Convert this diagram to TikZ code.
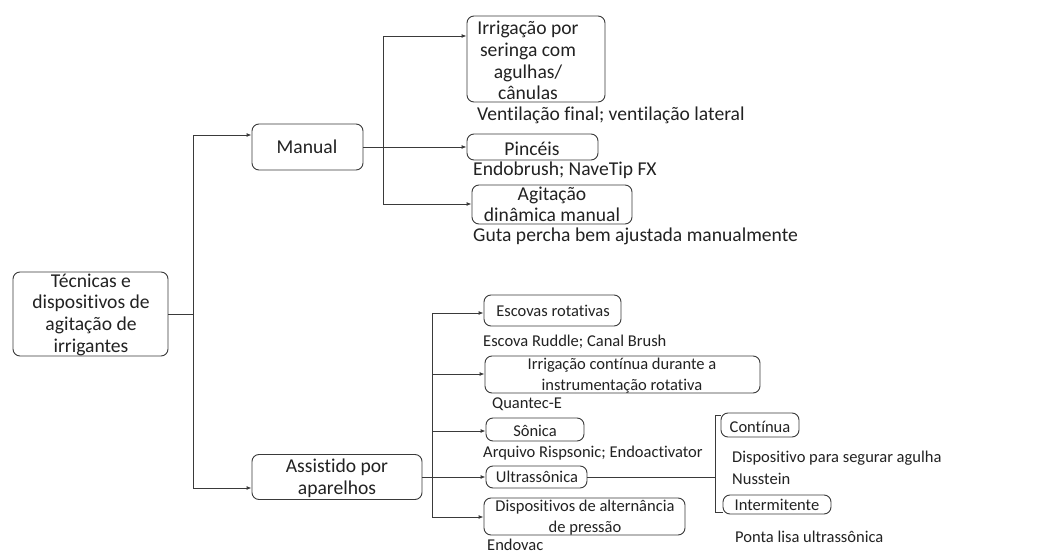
\documentclass[tikz,border=0pt]{standalone}
\usepackage{fontspec}
\setmainfont[Ligatures={NoCommon}]{Carlito}
\usetikzlibrary{arrows.meta}
\definecolor{lc}{HTML}{3A3A3A}
\definecolor{tc}{HTML}{222222}
\newcommand{\fbig}{\fontsize{19.6}{21.7}\selectfont}
\newcommand{\fagi}{\fontsize{19.6}{20.5}\selectfont}
\newcommand{\fsmall}{\fontsize{16.5}{21}\selectfont}
\begin{document}
\begin{tikzpicture}[x=1pt,y=-1pt]
\tikzset{
 box/.style={draw=lc, rounded corners=7pt, line width=0.9pt, inner sep=0pt},
 txt/.style={font=\fbig, text=tc, align=center, inner sep=0pt},
 stxt/.style={font=\fsmall, text=tc, align=center, inner sep=0pt},
 lbl/.style={font=\fbig, text=tc, anchor=west, inner sep=0pt},
 slbl/.style={font=\fsmall, text=tc, anchor=west, inner sep=0pt},
 conn/.style={draw=lc, line width=0.9pt},
 arr/.style={conn, -{Latex[length=5pt,width=4pt]}},
}
\useasboundingbox[fill=white] (0,0) rectangle (1053,553);

% boxes
\node[box, minimum width=155pt, minimum height=84pt] (root) at (90.5,314) {};
\node[box, minimum width=111pt, minimum height=46pt] (manual) at (307.5,147) {};
\node[box, minimum width=170pt, minimum height=45pt] (assist) at (337,477) {};
\node[box, minimum width=138pt, minimum height=86pt] (irr) at (536,59) {};
\node[box, minimum width=131pt, minimum height=26pt] (pin) at (532.5,147) {};
\node[box, minimum width=160pt, minimum height=39pt] (agi) at (552,204.5) {};
\node[box, minimum width=137pt, minimum height=31pt] (esc) at (552.5,310.5) {};
\node[box, minimum width=275pt, minimum height=37pt] (irc) at (622.5,374.5) {};
\node[box, minimum width=98pt, minimum height=23pt] (son) at (535,429.5) {};
\node[box, minimum width=101pt, minimum height=22pt] (ult) at (536.5,477) {};
\node[box, minimum width=201pt, minimum height=37pt] (dis) at (584.5,516.5) {};
\node[box, minimum width=78pt, minimum height=24pt] (con) at (760,425) {};
\node[box, minimum width=108pt, minimum height=19pt] (int) at (777,504.5) {};

% box texts
\node[txt] (rootT) at (91,314.5) {Técnicas e\\dispositivos de\\agitação de\\irrigantes};
\node[txt] (manualT) at (307,147) {Manual};
\node[txt] (assistT) at (337,478) {Assistido por\\aparelhos};
\node[txt] (irrT) at (528,60.5) {Irrigação por\\seringa com\\agulhas/\\cânulas};
\node[txt] (pinT) at (532,149) {Pincéis};
\node[txt, font=\fagi] (agiT) at (552,204.5) {Agitação\\dinâmica manual};
\node[stxt] (escT) at (553,311) {Escovas rotativas};
\node[stxt] (ircT) at (622,375.5) {Irrigação contínua durante a\\instrumentação rotativa};
\node[stxt] (sonT) at (535,431) {Sônica};
\node[stxt] (ultT) at (537,477) {Ultrassônica};
\node[stxt] (disT) at (585,517.5) {Dispositivos de alternância\\de pressão};
\node[stxt] (conT) at (760,427) {Contínua};
\node[stxt] (intT) at (777,505) {Intermitente};

% plain labels
\node[lbl] (l1) at (477,115) {Ventilação final; ventilação lateral};
\node[lbl] (l2) at (473,170) {Endobrush; NaveTip FX};
\node[lbl] (l3) at (473,236) {Guta percha bem ajustada manualmente};
\node[slbl] (l4) at (483,342) {Escova Ruddle; Canal Brush};
\node[slbl] (l5) at (492,404) {Quantec-E};
\node[slbl] (l6) at (483,453) {Arquivo Rispsonic; Endoactivator};
\node[slbl] (l7) at (487,545) {Endovac};
\node[slbl] (l8) at (732,458) {Dispositivo para segurar agulha};
\node[slbl] (l9) at (732,479) {Nusstein};
\node[slbl] (l10) at (735,537) {Ponta lisa ultrassônica};

% connectors
\coordinate (t1) at (193,314);
\coordinate (t1a) at (193,135);
\coordinate (t1b) at (193,488);
\draw[conn] (root.east) -- (t1);
\draw[arr] (t1) -- (t1a) -- (t1a -| manual.west);
\draw[arr] (t1) -- (t1b) -- (t1b -| assist.west);

\coordinate (m1) at (383,147);
\coordinate (m1a) at (383,36);
\coordinate (m1b) at (383,204);
\draw[arr] (manual.east) -- (pin.west);
\draw[arr] (m1) -- (m1a) -- (m1a -| irr.west);
\draw[arr] (m1) -- (m1b) -- (m1b -| agi.west);

\coordinate (a1) at (432,477);
\coordinate (a1a) at (432,313);
\coordinate (a1b) at (432,517);
\coordinate (a1c) at (432,374);
\coordinate (a1d) at (432,431);
\draw[arr] (assist.east) -- (ult.west);
\draw[arr] (a1) -- (a1a) -- (a1a -| esc.west);
\draw[arr] (a1c) -- (a1c -| irc.west);
\draw[arr] (a1d) -- (a1d -| son.west);
\draw[arr] (a1) -- (a1b) -- (a1b -| dis.west);

\coordinate (u1) at (715,477);
\coordinate (u1a) at (715,415);
\coordinate (u1b) at (715,512);
\draw[conn] (ult.east) -- (u1);
\draw[conn] (u1a -| con.west) -- (u1a) -- (u1b) -- (u1b -| int.west);
\end{tikzpicture}
\end{document}
